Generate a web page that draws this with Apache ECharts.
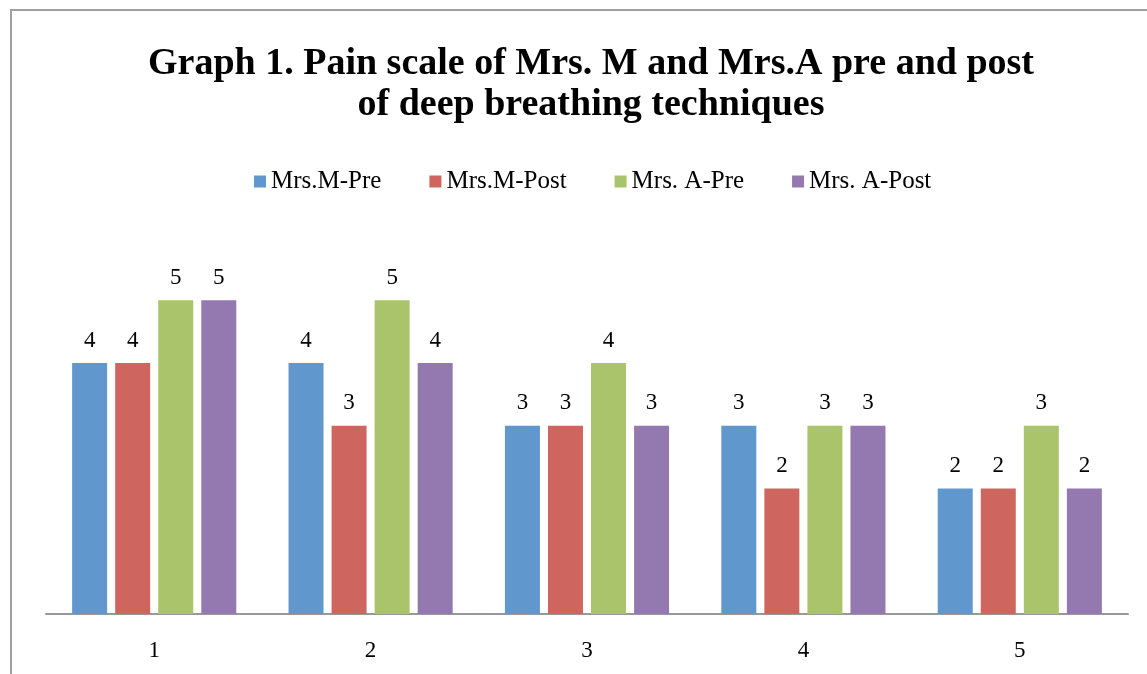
<!DOCTYPE html>
<html><head><meta charset="utf-8">
<script src="https://cdn.jsdelivr.net/npm/echarts@6/dist/echarts.min.js"></script>
<style>html,body{margin:0;padding:0;background:#fff}#c{width:1147px;height:674px}</style>
</head><body><div id="c"></div>
<script>
const categories = ['1', '2', '3', '4', '5'];
const seriesNames = ['Mrs.M-Pre', 'Mrs.M-Post', 'Mrs. A-Pre', 'Mrs. A-Post'];
const mrsMPre = [4, 4, 3, 3, 2];
const mrsMPost = [4, 3, 3, 2, 2];
const mrsAPre = [5, 5, 4, 3, 3];
const mrsAPost = [5, 4, 3, 3, 2];
const colors = ['#6097CC', '#CE665F', '#A9C46B', '#9479B1'];
const values = [mrsMPre, mrsMPost, mrsAPre, mrsAPost];
const FONT = '"Liberation Serif", "DejaVu Serif", serif';

const chart = echarts.init(document.getElementById('c'), null, {renderer: 'canvas'});
chart.setOption({
  animation: false,
  backgroundColor: '#fff',
  color: colors,
  title: {
    text: 'Graph 1. Pain scale of Mrs. M and Mrs.A pre and post\nof deep breathing techniques',
    left: 586, top: 39, textAlign: 'center',
    textStyle: {fontFamily: FONT, fontWeight: 'bold', fontSize: 38, lineHeight: 41, color: '#000'}
  },
  legend: {
    data: seriesNames,
    top: 164, left: 249,
    itemWidth: 12, itemHeight: 12, itemGap: 48,
    icon: 'rect',
    textStyle: {fontFamily: FONT, fontSize: 25, color: '#000'}
  },
  grid: {left: 46, right: 19, top: 237.5, bottom: 60},
  xAxis: {
    type: 'category', data: categories,
    axisLine: {lineStyle: {color: '#999', width: 2}},
    axisTick: {show: false},
    axisLabel: {fontFamily: FONT, fontSize: 23, color: '#000', margin: 25}
  },
  yAxis: {type: 'value', min: 0, max: 6, interval: 1, show: false, splitLine: {show: false}},
  series: seriesNames.map((n, i) => ({
    name: n, type: 'bar', data: values[i],
    barWidth: 35, barGap: '23%',
    label: {show: true, position: 'top', distance: 11, fontFamily: FONT, fontSize: 23, color: '#000'}
  })),
  graphic: [{
    type: 'rect', shape: {x: 11, y: 10, width: 1200, height: 700},
    style: {fill: 'none', stroke: '#a0a0a0', lineWidth: 2}, silent: true
  }]
});
</script></body></html>
